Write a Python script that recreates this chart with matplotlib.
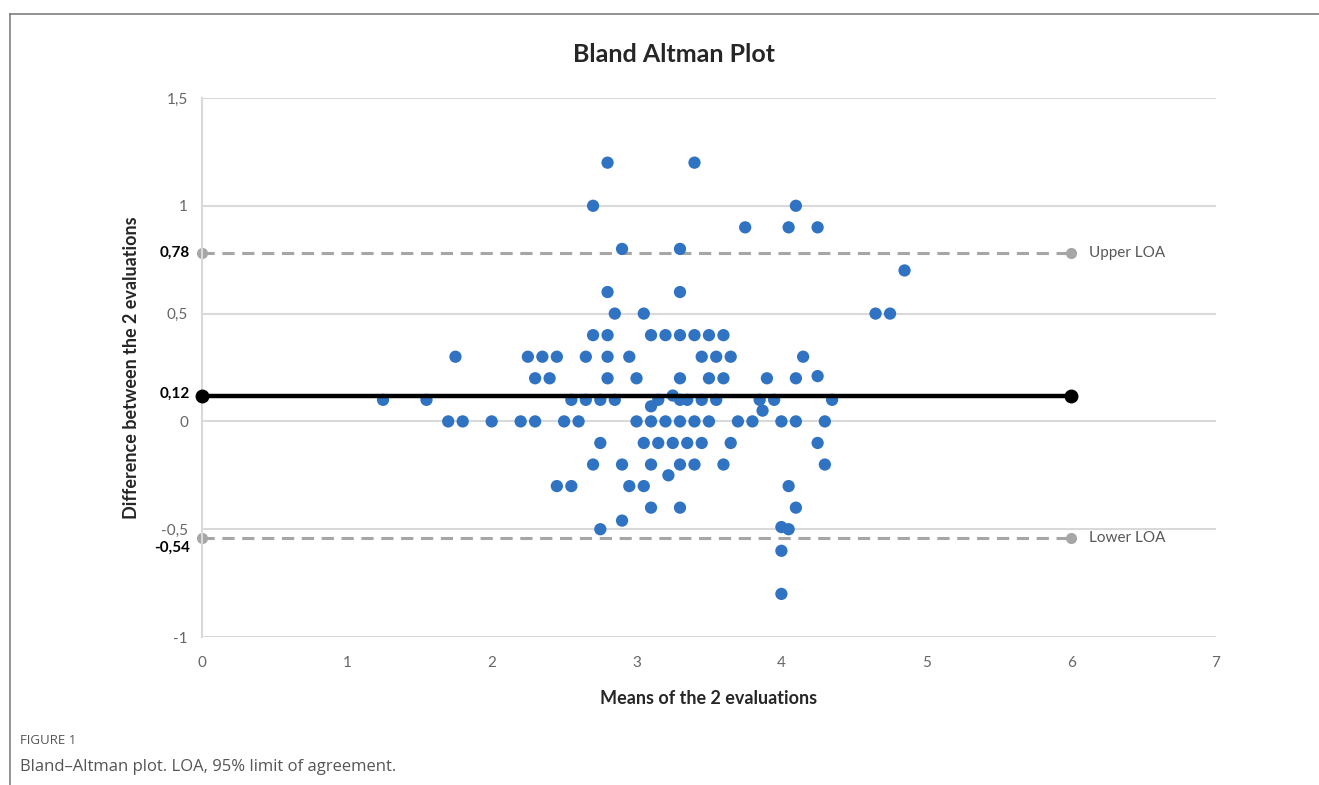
import matplotlib
matplotlib.use('Agg')
import matplotlib.pyplot as plt
from matplotlib.lines import Line2D
import numpy as np

# Means of the two evaluations (x) and their differences (y), grouped by row
x_vals = [2.8, 3.4,
          2.7, 4.1,
          3.75, 4.05, 4.25,
          2.9, 3.3,
          4.85,
          2.8, 3.3,
          2.85, 3.05, 4.65, 4.75,
          2.7, 2.8, 3.1, 3.2, 3.3, 3.4, 3.5, 3.6,
          1.75, 2.25, 2.35, 2.45, 2.65, 2.8, 2.95, 3.45, 3.55, 3.65, 4.15,
          2.3, 2.4, 2.8, 3.0, 3.3, 3.5, 3.6, 3.9, 4.1, 4.25,
          1.25, 1.55, 2.55, 2.65, 2.75, 2.85, 3.15, 3.25, 3.3, 3.35, 3.45,
          3.55, 3.85, 3.95, 4.35, 3.1, 3.87,
          1.7, 1.8, 2.0, 2.2, 2.3, 2.5, 2.6, 3.0, 3.1, 3.2, 3.3, 3.4, 3.5,
          3.7, 3.8, 4.0, 4.1, 4.3,
          2.75, 3.05, 3.15, 3.25, 3.35, 3.45, 3.65, 4.25,
          2.7, 2.9, 3.1, 3.3, 3.4, 3.6, 4.3, 3.22,
          2.45, 2.55, 2.95, 3.05, 4.05,
          3.1, 3.3, 4.1,
          2.9,
          2.75, 4.0, 4.05,
          4.0,
          4.0]
y_vals = [1.2, 1.2,
          1.0, 1.0,
          0.9, 0.9, 0.9,
          0.8, 0.8,
          0.7,
          0.6, 0.6,
          0.5, 0.5, 0.5, 0.5,
          0.4, 0.4, 0.4, 0.4, 0.4, 0.4, 0.4, 0.4,
          0.3, 0.3, 0.3, 0.3, 0.3, 0.3, 0.3, 0.3, 0.3, 0.3, 0.3,
          0.2, 0.2, 0.2, 0.2, 0.2, 0.2, 0.2, 0.2, 0.2, 0.21,
          0.1, 0.1, 0.1, 0.1, 0.1, 0.1, 0.1, 0.12, 0.1, 0.1, 0.1,
          0.1, 0.1, 0.1, 0.1, 0.07, 0.05,
          0, 0, 0, 0, 0, 0, 0, 0, 0, 0, 0, 0, 0,
          0, 0, 0, 0, 0,
          -0.1, -0.1, -0.1, -0.1, -0.1, -0.1, -0.1, -0.1,
          -0.2, -0.2, -0.2, -0.2, -0.2, -0.2, -0.2, -0.25,
          -0.3, -0.3, -0.3, -0.3, -0.3,
          -0.4, -0.4, -0.4,
          -0.46,
          -0.5, -0.49, -0.5,
          -0.6,
          -0.8]

mean_diff = 0.12
upper_loa = 0.78
lower_loa = -0.54
line_span = [0, 6]

x_ticks = [0, 1, 2, 3, 4, 5, 6, 7]
y_ticks = [-1, -0.5, 0, 0.5, 1, 1.5]
y_tick_labels = ['-1', '-0,5', '0', '0,5', '1', '1,5']

plt.rcParams['font.family'] = ['Lato', 'DejaVu Sans']

fig = plt.figure(figsize=(13.19, 7.85), dpi=100)
ax = fig.add_axes([0.1531, 0.1885, 0.7688, 0.6867])

ax.set_xlim(0, 7)
ax.set_ylim(-1, 1.5)
for yy in y_ticks:
    ax.axhline(yy, color='#d9d9d9', lw=1.5, zorder=0)

ax.scatter(x_vals, y_vals, s=78, color='#2f73c2', edgecolors='none', zorder=3)

ax.plot(line_span, [mean_diff] * 2, color='black', lw=3.2, marker='o',
        ms=9, zorder=4, clip_on=False)
for val, name in [(upper_loa, 'Upper LOA'), (lower_loa, 'Lower LOA')]:
    ax.plot(line_span, [val] * 2, color='#a6a6a6', lw=2.2, ls=(0, (4, 2.5)),
            marker='o', ms=7, zorder=1, clip_on=False)
    ax.text(6.12, val, name, color='#595959', fontsize=11, va='center', ha='left')

for side in ['top', 'right', 'bottom']:
    ax.spines[side].set_visible(False)
ax.spines['left'].set_color('#d9d9d9')
ax.spines['left'].set_linewidth(1.5)

ax.set_xticks(x_ticks)
ax.set_xticklabels([str(v) for v in x_ticks])
ax.set_yticks(y_ticks)
ax.set_yticklabels(y_tick_labels)
ax.tick_params(length=0, colors='#666666', labelsize=11)
ax.tick_params(axis='x', pad=14)
ax.tick_params(axis='y', pad=10)

# bold labels for mean and limits of agreement
yt = ax.get_yaxis_transform()
ax.text(-0.012, upper_loa, '0,78', transform=yt, ha='right', va='center',
        fontsize=11, fontweight='bold', color='black')
ax.text(-0.012, mean_diff + 0.01, '0,12', transform=yt, ha='right', va='center',
        fontsize=11, fontweight='bold', color='black')
ax.text(-0.012, lower_loa - 0.045, '-0,54', transform=yt, ha='right', va='center',
        fontsize=11, fontweight='bold', color='black')

ax.set_xlabel('Means of the 2 evaluations', fontsize=13, fontweight='bold',
              color='#262626', labelpad=14)
ax.set_ylabel('Difference between the 2 evaluations', fontsize=13,
              fontweight='bold', color='#262626', labelpad=15)

fig.text(0.511, 0.930, 'Bland Altman Plot', ha='center', va='center',
         fontsize=18, fontweight='bold', color='#262626')

# outer frame and caption
fig.add_artist(Line2D([10 / 1319, 1], [1 - 14 / 785] * 2, color='#7f7f7f', lw=1.2))
fig.add_artist(Line2D([10 / 1319] * 2, [0, 1 - 14 / 785], color='#7f7f7f', lw=1.2))
fig.text(20 / 1319, 1 - 740 / 785, 'FIGURE 1', fontsize=9.5, color='#555555',
         va='center', family=['Open Sans', 'DejaVu Sans'])
fig.text(20 / 1319, 1 - 767 / 785, 'Bland\u2013Altman plot. LOA, 95% limit of agreement.',
         fontsize=12, color='#555555', va='center', family=['Open Sans', 'DejaVu Sans'])

fig.savefig('out.png', dpi=100)
